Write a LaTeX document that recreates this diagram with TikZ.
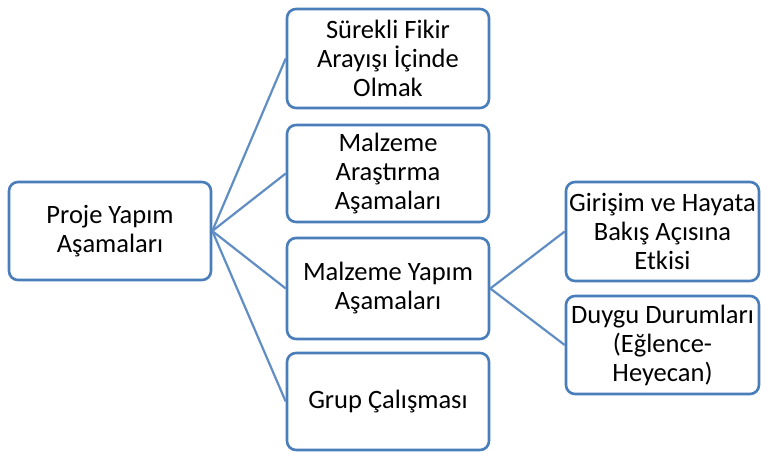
\documentclass[tikz,border=0pt]{standalone}
\usepackage{fontspec}
\setmainfont{Carlito}
\usepackage{tikz}

\definecolor{boxblue}{RGB}{74,126,187}
\definecolor{lineblue}{RGB}{96,141,196}

\begin{document}
\begin{tikzpicture}[x=1pt,y=-1pt,
    box/.style={shape=rectangle,draw=boxblue,line width=2.6pt,rounded corners=9pt,
        fill=white,align=center,font=\fontsize{26.5}{29}\selectfont,
        minimum width=202pt,minimum height=98pt,inner sep=0pt},
    sidebox/.style={box,minimum width=193pt},
    link/.style={draw=lineblue,line width=2.2pt}]
    \useasboundingbox (0,0) rectangle (761,452);

    \node[box] (root) at (110,231) {Proje Yapım\\Aşamaları};

    \node[box,minimum height=99pt] (fikir) at (388,58.5) {Sürekli Fikir\\Arayışı İçinde\\Olmak};
    \node[box,minimum height=97pt] (arastirma) at (388,173.5) {Malzeme\\Araştırma\\Aşamaları};
    \node[box,minimum height=101pt] (yapim) at (388,288.5) {Malzeme Yapım\\Aşamaları};
    \node[box,minimum height=97pt] (grup) at (388,401.5) {Grup Çalışması};

    \node[sidebox,minimum height=99pt] (girisim) at (662.5,231.5) {Girişim ve Hayata\\Bakış Açısına\\Etkisi};
    \node[sidebox,minimum height=98pt] (duygu) at (662.5,345) {Duygu Durumları\\(Eğlence-\\Heyecan)};

    \draw[link] (root.east) -- (fikir.west);
    \draw[link] (root.east) -- (arastirma.west);
    \draw[link] (root.east) -- (yapim.west);
    \draw[link] (root.east) -- (grup.west);

    \draw[link] (yapim.east) -- (girisim.west);
    \draw[link] (yapim.east) -- (duygu.west);
\end{tikzpicture}
\end{document}
